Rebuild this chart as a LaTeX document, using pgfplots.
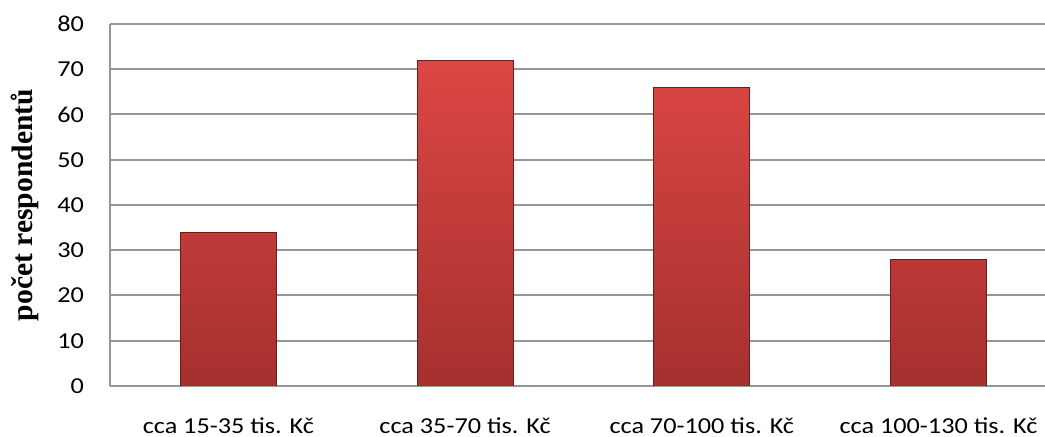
\documentclass[border=0pt]{standalone}
\usepackage{fontspec}
\setmainfont{Liberation Serif}
\newfontfamily\tickfont[FakeStretch=1.15]{Carlito}
\usepackage{pgfplots}
\pgfplotsset{compat=1.18}
\definecolor{gridgray}{HTML}{969696}
\definecolor{barlight}{HTML}{DC4744}
\definecolor{bardark}{HTML}{A5302E}
\definecolor{baredge}{HTML}{6E1C1B}
\begin{document}
\begin{tikzpicture}
\useasboundingbox (-55pt,-25.5pt) rectangle (467.5pt,193pt);
\begin{axis}[
  scale only axis,
  width=467.5pt, height=181pt,
  xmin=-0.5, xmax=3.45,
  ymin=0, ymax=80,
  ytick={0,10,...,80},
  xtick=data,
  xticklabels={cca 15-35 tis. Kč, cca 35-70 tis. Kč, cca 70-100 tis. Kč, cca 100-130 tis. Kč},
  axis x line*=bottom,
  axis y line*=left,
  axis line style={gridgray, line width=1pt},
  major tick length=0pt,
  ymajorgrids,
  major grid style={gridgray, line width=1pt},
  ticklabel style={font=\tickfont\fontsize{11.4}{13}\selectfont},
  yticklabel style={xshift=-9.5pt},
  xticklabel style={yshift=-12.5pt},
  /pgf/number format/assume math mode=true,
  ylabel={počet respondentů},
  every axis y label/.style={at={(axis description cs:-0.0909,0.5)}, rotate=90, anchor=center,
    font=\bfseries\fontsize{14.8}{16}\selectfont},
  ybar, bar width=48pt,
]
\addplot[draw=baredge, line width=0.4pt, top color=barlight, bottom color=bardark]
  coordinates {(0,34) (1,72) (2,66) (3,28)};
\end{axis}
\end{tikzpicture}
\end{document}
